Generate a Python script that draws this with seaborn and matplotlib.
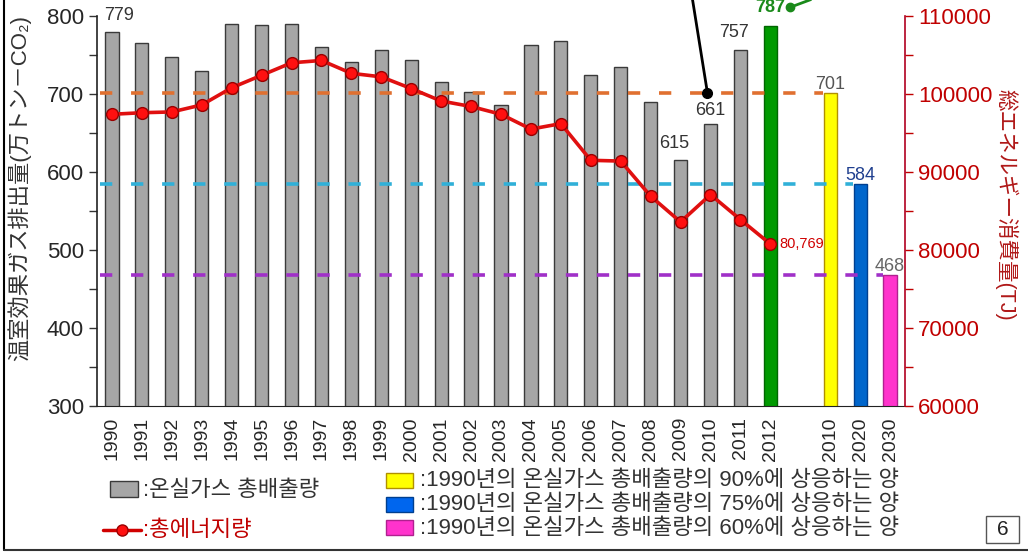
import numpy as np
import pandas as pd
import matplotlib
matplotlib.use("Agg")
import matplotlib.pyplot as plt
from matplotlib.patches import Rectangle
from matplotlib.lines import Line2D
import seaborn as sns

# ---------------- data ----------------
years = [str(y) for y in range(1990, 2013)]
target_labels = ["2010", "2020", "2030"]
tick_labels = years + [""] + target_labels
emissions = [779, 765, 747, 729, 790, 789, 790, 760, 741, 757, 744, 716, 703, 686,
             763, 768, 724, 734, 690, 615, 661, 757, 787]
targets = [701, 584, 468]
energy = [97400, 97600, 97700, 98600, 100800, 102400, 104000, 104300, 102650, 102200,
          100700, 99100, 98400, 97400, 95500, 96200, 91500, 91400, 86900, 83600,
          87100, 83900, 80769]
shown_labels = {"1990": "779", "2009": "615", "2010": "661", "2011": "757"}
target_pct = ["90%", "75%", "60%"]

# ---------------- style ----------------
sns.set_style("white")
plt.rcParams["font.family"] = ["Liberation Sans", "Noto Sans CJK JP", "DejaVu Sans"]

W, H = 1028, 552
fig = plt.figure(figsize=(W / 100, H / 100), dpi=100)
L, R, T, B = 97, 905, 16, 406
ax = fig.add_axes([L / W, 1 - B / H, (R - L) / W, (B - T) / H])

keys = years + ["gap"] + ["t" + t for t in target_labels]
values = emissions + [np.nan] + targets
fill = ["#A6A6A6"] * 22 + ["#009A00", "#FFFFFF", "#FFFF00", "#0066CC", "#FF33CC"]
edges = ["#3A3A3A"] * 22 + ["#006600", "#FFFFFF", "#B09000", "#003F8F", "#B0208F"]
df = pd.DataFrame({"key": keys, "val": values})
sns.barplot(data=df, x="key", y="val", hue="key", order=keys, hue_order=keys,
            palette=dict(zip(keys, fill)), legend=False, width=0.44, ax=ax,
            saturation=1)
for p in ax.patches:
    cx = p.get_x() + p.get_width() / 2
    i = int(round(cx))
    p.set_edgecolor(edges[i])
    p.set_linewidth(1.0)

ax.set_xlim(-0.5, len(keys) - 0.5)
ax.set_ylim(300, 800)
ax.set_xlabel("")
ax.set_ylabel("温室効果ガス排出量(万トン－CO₂)", fontsize=16, color="#333333")
ax.yaxis.set_label_coords(-0.082, 0.56)
ax.set_xticks(range(len(keys)))
ax.set_xticklabels(tick_labels, rotation=90, fontsize=14)
ax.set_xticks(np.arange(-0.5, len(keys), 1.0), minor=True)
ax.tick_params(axis="x", which="major", length=0, pad=8)
ax.tick_params(axis="x", which="minor", length=6, width=1, direction="out", color="#333333")
ax.set_yticks(range(300, 801, 100))
ax.set_yticks(range(350, 800, 100), minor=True)
ax.tick_params(axis="y", which="both", direction="out", length=6, width=1, labelsize=16,
               color="#333333", left=True)
for s in ["top", "right"]:
    ax.spines[s].set_visible(False)
ax.spines["left"].set_color("#222222")
ax.spines["bottom"].set_color("#222222")
ax.spines["left"].set_linewidth(1.2)

# dashed target lines
dash_cols = ["#E07030", "#30B0D8", "#A030C8"]
dash_end = [23.75, 24.75, 25.75]
for v, c, e in zip(targets, dash_cols, dash_end):
    ax.plot([-0.4, e], [v, v], color=c, lw=2.6, linestyle=(0, (3.4, 5.2)), zorder=1)

# value labels
for i, k in enumerate(years):
    if k in shown_labels:
        v = emissions[i]
        if k == "1990":
            ax.annotate(shown_labels[k], (i - 0.25, v), xytext=(0, 6), textcoords="offset points",
                        ha="left", va="bottom", fontsize=13, color="#333333")
        elif k == "2010":
            ax.annotate(shown_labels[k], (i, v), xytext=(0, 4), textcoords="offset points",
                        ha="center", va="bottom", fontsize=13, color="#333333")
        else:
            ax.annotate(shown_labels[k], (i - 0.2, v), xytext=(0, 6), textcoords="offset points",
                        ha="center", va="bottom", fontsize=13, color="#333333")
tcols = ["#555555", "#1F3F8F", "#666666"]
for j, v in enumerate(targets):
    i = 24 + j
    ax.annotate(str(v), (i, v), xytext=(0, 0), textcoords="offset points",
                ha="center", va="bottom", fontsize=13, color=tcols[j])

# black leader from 2010 value
ax.plot([19.9, 19.4], [701, 821], color="black", lw=2, clip_on=False, zorder=5)
ax.plot([19.9], [701], marker="o", color="black", ms=7, clip_on=False, zorder=6)
# green leader for 2012
ax.plot([22.65, 23.35], [811, 821], color="#1A8A1A", lw=2, clip_on=False, zorder=5)
ax.plot([22.65], [811], marker="o", color="#1A8A1A", ms=6, clip_on=False, zorder=6)
ax.text(22.5, 811, str(emissions[-1]), color="#1A8A1A", fontsize=13, fontweight="bold",
        ha="right", va="center", clip_on=False)

# ---------------- energy (right axis) ----------------
ax2 = ax.twinx()
sns.lineplot(x=np.arange(len(energy)), y=energy, ax=ax2, color="#E01010", lw=2.6,
             marker="o", markersize=8.5, markerfacecolor="#FF1010",
             markeredgecolor="#990000", markeredgewidth=1)
ax2.set_ylim(60000, 110000)
ax2.set_xlim(-0.5, len(keys) - 0.5)
ax2.set_yticks(range(60000, 110001, 10000))
ax2.set_yticks(range(65000, 110000, 10000), minor=True)
red = "#C00000"
ax2.tick_params(axis="y", which="both", direction="out", length=6, width=1, labelsize=16,
                colors=red, right=True)
ax2.set_ylabel("総エネルギー消費量(TJ)", fontsize=15.5, color="#B01818", rotation=270)
ax2.yaxis.set_label_coords(1.14, 0.515)
for s in ["top", "left", "bottom"]:
    ax2.spines[s].set_visible(False)
ax2.spines["right"].set_color("#B00020")
ax2.spines["right"].set_linewidth(1.2)
ax2.text(22.3, energy[-1], "80,769", color="#D00000", fontsize=10.5, ha="left", va="center")

# ---------------- legend (figure level) ----------------
def fx(x):
    return x / W

def fy(y):
    return 1 - y / H

def box(x0, y0, w, h, fc, ec):
    fig.add_artist(Rectangle((fx(x0), fy(y0 + h)), w / W, h / H, facecolor=fc,
                             edgecolor=ec, lw=1, transform=fig.transFigure))

box(110, 481, 28, 16, "#A6A6A6", "#3A3A3A")
fig.text(fx(143), fy(490), ":온실가스 총배출량", fontsize=16, color="#333333", va="center")
fig.add_artist(Line2D([fx(103), fx(141)], [fy(530), fy(530)], color="#D00000", lw=2.5,
                      transform=fig.transFigure))
fig.add_artist(Line2D([fx(122)], [fy(530)], marker="o", ms=8, color="#FF1010",
                      markeredgecolor="#990000", transform=fig.transFigure))
fig.text(fx(143), fy(531), ":총에너지량", fontsize=16, color="#C00000", va="center")

leg_cols = [("#FFFF00", "#B09000"), ("#0066EE", "#003F8F"), ("#FF33CC", "#B0208F")]
for j, (fc, ec) in enumerate(leg_cols):
    y0 = 473 + j * 23.5
    box(386, y0, 27, 15, fc, ec)
    fig.text(fx(420), fy(y0 + 8), ":1990년의 온실가스 총배출량의 " + target_pct[j] + "에 상응하는 양",
             fontsize=16, color="#333333", va="center")

# page number box
box(986, 516, 33, 27, "white", "#555555")
fig.text(fx(1002.5), fy(529.5), "6", fontsize=15, ha="center", va="center", color="#222222")

# page border
fig.add_artist(Line2D([fx(4), fx(4)], [fy(0), fy(550)], color="black", lw=1.5,
                      transform=fig.transFigure))
fig.add_artist(Line2D([fx(4), fx(1028)], [fy(550), fy(550)], color="#333333", lw=1.5,
                      transform=fig.transFigure))

fig.savefig("out.png", dpi=100)
